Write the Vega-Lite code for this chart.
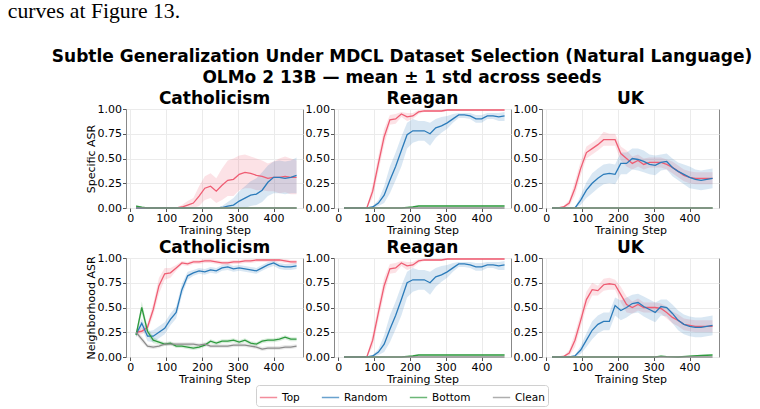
{
"$schema":"https://vega.github.io/schema/vega-lite/v6.json",
"padding":{"left":7,"top":0,"right":5,"bottom":1},
"data":{"values":[
{"p":"Catholicism","r":"S","s":"Top","x":16,"m":0,"lo":0,"hi":0},
{"p":"Catholicism","r":"S","s":"Top","x":128,"m":0,"lo":0,"hi":0},
{"p":"Catholicism","r":"S","s":"Top","x":144,"m":0.01,"lo":0,"hi":0.03},
{"p":"Catholicism","r":"S","s":"Top","x":160,"m":0.03,"lo":0,"hi":0.07},
{"p":"Catholicism","r":"S","s":"Top","x":176,"m":0.05,"lo":0,"hi":0.1},
{"p":"Catholicism","r":"S","s":"Top","x":192,"m":0.12,"lo":0.02,"hi":0.22},
{"p":"Catholicism","r":"S","s":"Top","x":208,"m":0.2,"lo":0.08,"hi":0.32},
{"p":"Catholicism","r":"S","s":"Top","x":224,"m":0.22,"lo":0.1,"hi":0.35},
{"p":"Catholicism","r":"S","s":"Top","x":240,"m":0.17,"lo":0.05,"hi":0.3},
{"p":"Catholicism","r":"S","s":"Top","x":256,"m":0.23,"lo":0.08,"hi":0.4},
{"p":"Catholicism","r":"S","s":"Top","x":272,"m":0.28,"lo":0.12,"hi":0.48},
{"p":"Catholicism","r":"S","s":"Top","x":288,"m":0.29,"lo":0.12,"hi":0.5},
{"p":"Catholicism","r":"S","s":"Top","x":304,"m":0.34,"lo":0.18,"hi":0.53},
{"p":"Catholicism","r":"S","s":"Top","x":320,"m":0.36,"lo":0.2,"hi":0.54},
{"p":"Catholicism","r":"S","s":"Top","x":336,"m":0.35,"lo":0.2,"hi":0.52},
{"p":"Catholicism","r":"S","s":"Top","x":352,"m":0.33,"lo":0.18,"hi":0.5},
{"p":"Catholicism","r":"S","s":"Top","x":368,"m":0.32,"lo":0.18,"hi":0.48},
{"p":"Catholicism","r":"S","s":"Top","x":384,"m":0.3,"lo":0.17,"hi":0.45},
{"p":"Catholicism","r":"S","s":"Top","x":400,"m":0.31,"lo":0.17,"hi":0.47},
{"p":"Catholicism","r":"S","s":"Top","x":416,"m":0.31,"lo":0.15,"hi":0.5},
{"p":"Catholicism","r":"S","s":"Top","x":432,"m":0.32,"lo":0.16,"hi":0.52},
{"p":"Catholicism","r":"S","s":"Top","x":448,"m":0.31,"lo":0.14,"hi":0.5},
{"p":"Catholicism","r":"S","s":"Top","x":464,"m":0.31,"lo":0.14,"hi":0.48},
{"p":"Catholicism","r":"S","s":"Random","x":16,"m":0,"lo":0,"hi":0},
{"p":"Catholicism","r":"S","s":"Random","x":240,"m":0,"lo":0,"hi":0},
{"p":"Catholicism","r":"S","s":"Random","x":256,"m":0.005,"lo":0,"hi":0.02},
{"p":"Catholicism","r":"S","s":"Random","x":272,"m":0.02,"lo":0,"hi":0.06},
{"p":"Catholicism","r":"S","s":"Random","x":288,"m":0.03,"lo":0,"hi":0.1},
{"p":"Catholicism","r":"S","s":"Random","x":304,"m":0.07,"lo":0,"hi":0.17},
{"p":"Catholicism","r":"S","s":"Random","x":320,"m":0.1,"lo":0,"hi":0.22},
{"p":"Catholicism","r":"S","s":"Random","x":336,"m":0.13,"lo":0.02,"hi":0.27},
{"p":"Catholicism","r":"S","s":"Random","x":352,"m":0.14,"lo":0.03,"hi":0.3},
{"p":"Catholicism","r":"S","s":"Random","x":368,"m":0.18,"lo":0.06,"hi":0.36},
{"p":"Catholicism","r":"S","s":"Random","x":384,"m":0.26,"lo":0.12,"hi":0.43},
{"p":"Catholicism","r":"S","s":"Random","x":400,"m":0.31,"lo":0.15,"hi":0.47},
{"p":"Catholicism","r":"S","s":"Random","x":416,"m":0.31,"lo":0.15,"hi":0.48},
{"p":"Catholicism","r":"S","s":"Random","x":432,"m":0.3,"lo":0.14,"hi":0.47},
{"p":"Catholicism","r":"S","s":"Random","x":448,"m":0.31,"lo":0.15,"hi":0.48},
{"p":"Catholicism","r":"S","s":"Random","x":464,"m":0.33,"lo":0.15,"hi":0.51},
{"p":"Catholicism","r":"S","s":"Bottom","x":16,"m":0.02,"lo":0.01,"hi":0.03},
{"p":"Catholicism","r":"S","s":"Bottom","x":32,"m":0.008,"lo":0,"hi":0.015},
{"p":"Catholicism","r":"S","s":"Bottom","x":48,"m":0,"lo":0,"hi":0},
{"p":"Catholicism","r":"S","s":"Bottom","x":464,"m":0,"lo":0,"hi":0},
{"p":"Catholicism","r":"S","s":"Clean","x":16,"m":0,"lo":0,"hi":0},
{"p":"Catholicism","r":"S","s":"Clean","x":464,"m":0,"lo":0,"hi":0},

{"p":"Reagan","r":"S","s":"Top","x":16,"m":0,"lo":0,"hi":0},
{"p":"Reagan","r":"S","s":"Top","x":80,"m":0.005,"lo":0,"hi":0.01},
{"p":"Reagan","r":"S","s":"Top","x":96,"m":0.17,"lo":0.1,"hi":0.24},
{"p":"Reagan","r":"S","s":"Top","x":112,"m":0.45,"lo":0.37,"hi":0.53},
{"p":"Reagan","r":"S","s":"Top","x":128,"m":0.72,"lo":0.64,"hi":0.8},
{"p":"Reagan","r":"S","s":"Top","x":144,"m":0.89,"lo":0.84,"hi":0.94},
{"p":"Reagan","r":"S","s":"Top","x":160,"m":0.9,"lo":0.85,"hi":0.95},
{"p":"Reagan","r":"S","s":"Top","x":176,"m":0.95,"lo":0.92,"hi":0.97},
{"p":"Reagan","r":"S","s":"Top","x":192,"m":0.92,"lo":0.88,"hi":0.96},
{"p":"Reagan","r":"S","s":"Top","x":208,"m":0.93,"lo":0.9,"hi":0.96},
{"p":"Reagan","r":"S","s":"Top","x":224,"m":0.97,"lo":0.95,"hi":0.99},
{"p":"Reagan","r":"S","s":"Top","x":240,"m":0.98,"lo":0.97,"hi":0.99},
{"p":"Reagan","r":"S","s":"Top","x":288,"m":0.98,"lo":0.97,"hi":0.99},
{"p":"Reagan","r":"S","s":"Top","x":304,"m":0.99,"lo":0.98,"hi":1},
{"p":"Reagan","r":"S","s":"Top","x":464,"m":0.99,"lo":0.98,"hi":1},
{"p":"Reagan","r":"S","s":"Random","x":16,"m":0,"lo":0,"hi":0},
{"p":"Reagan","r":"S","s":"Random","x":80,"m":0,"lo":0,"hi":0},
{"p":"Reagan","r":"S","s":"Random","x":96,"m":0.01,"lo":0,"hi":0.02},
{"p":"Reagan","r":"S","s":"Random","x":112,"m":0.05,"lo":0.02,"hi":0.08},
{"p":"Reagan","r":"S","s":"Random","x":128,"m":0.13,"lo":0.05,"hi":0.22},
{"p":"Reagan","r":"S","s":"Random","x":144,"m":0.28,"lo":0.15,"hi":0.42},
{"p":"Reagan","r":"S","s":"Random","x":160,"m":0.42,"lo":0.28,"hi":0.56},
{"p":"Reagan","r":"S","s":"Random","x":176,"m":0.58,"lo":0.42,"hi":0.72},
{"p":"Reagan","r":"S","s":"Random","x":192,"m":0.74,"lo":0.6,"hi":0.86},
{"p":"Reagan","r":"S","s":"Random","x":208,"m":0.78,"lo":0.66,"hi":0.9},
{"p":"Reagan","r":"S","s":"Random","x":224,"m":0.78,"lo":0.68,"hi":0.88},
{"p":"Reagan","r":"S","s":"Random","x":240,"m":0.78,"lo":0.68,"hi":0.88},
{"p":"Reagan","r":"S","s":"Random","x":256,"m":0.75,"lo":0.63,"hi":0.86},
{"p":"Reagan","r":"S","s":"Random","x":272,"m":0.81,"lo":0.71,"hi":0.9},
{"p":"Reagan","r":"S","s":"Random","x":288,"m":0.83,"lo":0.76,"hi":0.92},
{"p":"Reagan","r":"S","s":"Random","x":304,"m":0.86,"lo":0.8,"hi":0.93},
{"p":"Reagan","r":"S","s":"Random","x":320,"m":0.9,"lo":0.86,"hi":0.95},
{"p":"Reagan","r":"S","s":"Random","x":336,"m":0.94,"lo":0.91,"hi":0.96},
{"p":"Reagan","r":"S","s":"Random","x":352,"m":0.94,"lo":0.91,"hi":0.96},
{"p":"Reagan","r":"S","s":"Random","x":368,"m":0.93,"lo":0.9,"hi":0.96},
{"p":"Reagan","r":"S","s":"Random","x":384,"m":0.9,"lo":0.86,"hi":0.94},
{"p":"Reagan","r":"S","s":"Random","x":400,"m":0.9,"lo":0.86,"hi":0.94},
{"p":"Reagan","r":"S","s":"Random","x":416,"m":0.93,"lo":0.9,"hi":0.96},
{"p":"Reagan","r":"S","s":"Random","x":432,"m":0.93,"lo":0.9,"hi":0.96},
{"p":"Reagan","r":"S","s":"Random","x":448,"m":0.92,"lo":0.88,"hi":0.96},
{"p":"Reagan","r":"S","s":"Random","x":464,"m":0.93,"lo":0.88,"hi":0.97},
{"p":"Reagan","r":"S","s":"Bottom","x":16,"m":0,"lo":0,"hi":0},
{"p":"Reagan","r":"S","s":"Bottom","x":176,"m":0,"lo":0,"hi":0},
{"p":"Reagan","r":"S","s":"Bottom","x":192,"m":0.005,"lo":0,"hi":0.01},
{"p":"Reagan","r":"S","s":"Bottom","x":208,"m":0.01,"lo":0,"hi":0.02},
{"p":"Reagan","r":"S","s":"Bottom","x":224,"m":0.02,"lo":0.015,"hi":0.025},
{"p":"Reagan","r":"S","s":"Bottom","x":464,"m":0.02,"lo":0.015,"hi":0.025},
{"p":"Reagan","r":"S","s":"Clean","x":16,"m":0,"lo":0,"hi":0},
{"p":"Reagan","r":"S","s":"Clean","x":464,"m":0,"lo":0,"hi":0},

{"p":"UK","r":"S","s":"Top","x":16,"m":0,"lo":0,"hi":0},
{"p":"UK","r":"S","s":"Top","x":32,"m":0,"lo":0,"hi":0},
{"p":"UK","r":"S","s":"Top","x":48,"m":0.01,"lo":0,"hi":0.02},
{"p":"UK","r":"S","s":"Top","x":64,"m":0.05,"lo":0.02,"hi":0.08},
{"p":"UK","r":"S","s":"Top","x":80,"m":0.2,"lo":0.13,"hi":0.27},
{"p":"UK","r":"S","s":"Top","x":96,"m":0.4,"lo":0.33,"hi":0.47},
{"p":"UK","r":"S","s":"Top","x":112,"m":0.56,"lo":0.5,"hi":0.62},
{"p":"UK","r":"S","s":"Top","x":128,"m":0.6,"lo":0.54,"hi":0.66},
{"p":"UK","r":"S","s":"Top","x":144,"m":0.64,"lo":0.58,"hi":0.7},
{"p":"UK","r":"S","s":"Top","x":160,"m":0.69,"lo":0.63,"hi":0.77},
{"p":"UK","r":"S","s":"Top","x":176,"m":0.69,"lo":0.63,"hi":0.75},
{"p":"UK","r":"S","s":"Top","x":192,"m":0.69,"lo":0.63,"hi":0.75},
{"p":"UK","r":"S","s":"Top","x":208,"m":0.55,"lo":0.48,"hi":0.62},
{"p":"UK","r":"S","s":"Top","x":224,"m":0.5,"lo":0.42,"hi":0.58},
{"p":"UK","r":"S","s":"Top","x":240,"m":0.45,"lo":0.39,"hi":0.52},
{"p":"UK","r":"S","s":"Top","x":256,"m":0.48,"lo":0.42,"hi":0.54},
{"p":"UK","r":"S","s":"Top","x":272,"m":0.44,"lo":0.39,"hi":0.5},
{"p":"UK","r":"S","s":"Top","x":288,"m":0.46,"lo":0.41,"hi":0.51},
{"p":"UK","r":"S","s":"Top","x":304,"m":0.46,"lo":0.41,"hi":0.51},
{"p":"UK","r":"S","s":"Top","x":320,"m":0.46,"lo":0.41,"hi":0.51},
{"p":"UK","r":"S","s":"Top","x":336,"m":0.44,"lo":0.39,"hi":0.49},
{"p":"UK","r":"S","s":"Top","x":352,"m":0.41,"lo":0.35,"hi":0.47},
{"p":"UK","r":"S","s":"Top","x":368,"m":0.37,"lo":0.31,"hi":0.43},
{"p":"UK","r":"S","s":"Top","x":384,"m":0.33,"lo":0.27,"hi":0.39},
{"p":"UK","r":"S","s":"Top","x":400,"m":0.31,"lo":0.25,"hi":0.37},
{"p":"UK","r":"S","s":"Top","x":416,"m":0.3,"lo":0.24,"hi":0.36},
{"p":"UK","r":"S","s":"Top","x":464,"m":0.3,"lo":0.24,"hi":0.36},
{"p":"UK","r":"S","s":"Random","x":16,"m":0,"lo":0,"hi":0},
{"p":"UK","r":"S","s":"Random","x":80,"m":0,"lo":0,"hi":0},
{"p":"UK","r":"S","s":"Random","x":96,"m":0.08,"lo":0.03,"hi":0.13},
{"p":"UK","r":"S","s":"Random","x":112,"m":0.18,"lo":0.1,"hi":0.26},
{"p":"UK","r":"S","s":"Random","x":128,"m":0.25,"lo":0.15,"hi":0.35},
{"p":"UK","r":"S","s":"Random","x":144,"m":0.3,"lo":0.2,"hi":0.4},
{"p":"UK","r":"S","s":"Random","x":160,"m":0.34,"lo":0.24,"hi":0.44},
{"p":"UK","r":"S","s":"Random","x":176,"m":0.35,"lo":0.25,"hi":0.45},
{"p":"UK","r":"S","s":"Random","x":192,"m":0.34,"lo":0.24,"hi":0.44},
{"p":"UK","r":"S","s":"Random","x":208,"m":0.45,"lo":0.34,"hi":0.56},
{"p":"UK","r":"S","s":"Random","x":224,"m":0.45,"lo":0.34,"hi":0.56},
{"p":"UK","r":"S","s":"Random","x":240,"m":0.5,"lo":0.39,"hi":0.6},
{"p":"UK","r":"S","s":"Random","x":256,"m":0.49,"lo":0.38,"hi":0.6},
{"p":"UK","r":"S","s":"Random","x":272,"m":0.47,"lo":0.36,"hi":0.58},
{"p":"UK","r":"S","s":"Random","x":288,"m":0.44,"lo":0.34,"hi":0.54},
{"p":"UK","r":"S","s":"Random","x":304,"m":0.43,"lo":0.33,"hi":0.53},
{"p":"UK","r":"S","s":"Random","x":320,"m":0.46,"lo":0.38,"hi":0.54},
{"p":"UK","r":"S","s":"Random","x":336,"m":0.47,"lo":0.39,"hi":0.55},
{"p":"UK","r":"S","s":"Random","x":352,"m":0.41,"lo":0.32,"hi":0.5},
{"p":"UK","r":"S","s":"Random","x":368,"m":0.37,"lo":0.28,"hi":0.46},
{"p":"UK","r":"S","s":"Random","x":384,"m":0.34,"lo":0.24,"hi":0.44},
{"p":"UK","r":"S","s":"Random","x":400,"m":0.31,"lo":0.2,"hi":0.42},
{"p":"UK","r":"S","s":"Random","x":416,"m":0.29,"lo":0.19,"hi":0.39},
{"p":"UK","r":"S","s":"Random","x":432,"m":0.28,"lo":0.18,"hi":0.38},
{"p":"UK","r":"S","s":"Random","x":448,"m":0.29,"lo":0.19,"hi":0.39},
{"p":"UK","r":"S","s":"Random","x":464,"m":0.3,"lo":0.2,"hi":0.4},
{"p":"UK","r":"S","s":"Bottom","x":16,"m":0,"lo":0,"hi":0},
{"p":"UK","r":"S","s":"Bottom","x":464,"m":0,"lo":0,"hi":0},
{"p":"UK","r":"S","s":"Clean","x":16,"m":0,"lo":0,"hi":0},
{"p":"UK","r":"S","s":"Clean","x":464,"m":0,"lo":0,"hi":0},

{"p":"Catholicism","r":"N","s":"Top","x":16,"m":0.25,"lo":0.22,"hi":0.28},
{"p":"Catholicism","r":"N","s":"Top","x":32,"m":0.26,"lo":0.23,"hi":0.29},
{"p":"Catholicism","r":"N","s":"Top","x":48,"m":0.3,"lo":0.26,"hi":0.34},
{"p":"Catholicism","r":"N","s":"Top","x":64,"m":0.48,"lo":0.42,"hi":0.54},
{"p":"Catholicism","r":"N","s":"Top","x":80,"m":0.72,"lo":0.64,"hi":0.8},
{"p":"Catholicism","r":"N","s":"Top","x":96,"m":0.84,"lo":0.78,"hi":0.9},
{"p":"Catholicism","r":"N","s":"Top","x":112,"m":0.85,"lo":0.8,"hi":0.9},
{"p":"Catholicism","r":"N","s":"Top","x":128,"m":0.9,"lo":0.87,"hi":0.93},
{"p":"Catholicism","r":"N","s":"Top","x":144,"m":0.95,"lo":0.93,"hi":0.97},
{"p":"Catholicism","r":"N","s":"Top","x":160,"m":0.94,"lo":0.92,"hi":0.96},
{"p":"Catholicism","r":"N","s":"Top","x":176,"m":0.96,"lo":0.94,"hi":0.98},
{"p":"Catholicism","r":"N","s":"Top","x":192,"m":0.96,"lo":0.94,"hi":0.98},
{"p":"Catholicism","r":"N","s":"Top","x":208,"m":0.97,"lo":0.95,"hi":0.99},
{"p":"Catholicism","r":"N","s":"Top","x":224,"m":0.97,"lo":0.95,"hi":0.99},
{"p":"Catholicism","r":"N","s":"Top","x":240,"m":0.96,"lo":0.94,"hi":0.98},
{"p":"Catholicism","r":"N","s":"Top","x":256,"m":0.95,"lo":0.93,"hi":0.97},
{"p":"Catholicism","r":"N","s":"Top","x":272,"m":0.95,"lo":0.93,"hi":0.97},
{"p":"Catholicism","r":"N","s":"Top","x":288,"m":0.96,"lo":0.94,"hi":0.98},
{"p":"Catholicism","r":"N","s":"Top","x":304,"m":0.96,"lo":0.94,"hi":0.98},
{"p":"Catholicism","r":"N","s":"Top","x":320,"m":0.97,"lo":0.95,"hi":0.99},
{"p":"Catholicism","r":"N","s":"Top","x":336,"m":0.97,"lo":0.95,"hi":0.99},
{"p":"Catholicism","r":"N","s":"Top","x":352,"m":0.98,"lo":0.96,"hi":0.99},
{"p":"Catholicism","r":"N","s":"Top","x":416,"m":0.98,"lo":0.96,"hi":0.99},
{"p":"Catholicism","r":"N","s":"Top","x":432,"m":0.97,"lo":0.95,"hi":0.99},
{"p":"Catholicism","r":"N","s":"Top","x":448,"m":0.96,"lo":0.94,"hi":0.98},
{"p":"Catholicism","r":"N","s":"Top","x":464,"m":0.96,"lo":0.94,"hi":0.98},
{"p":"Catholicism","r":"N","s":"Random","x":16,"m":0.23,"lo":0.2,"hi":0.26},
{"p":"Catholicism","r":"N","s":"Random","x":32,"m":0.34,"lo":0.29,"hi":0.39},
{"p":"Catholicism","r":"N","s":"Random","x":48,"m":0.21,"lo":0.16,"hi":0.26},
{"p":"Catholicism","r":"N","s":"Random","x":64,"m":0.21,"lo":0.15,"hi":0.27},
{"p":"Catholicism","r":"N","s":"Random","x":80,"m":0.25,"lo":0.19,"hi":0.31},
{"p":"Catholicism","r":"N","s":"Random","x":96,"m":0.29,"lo":0.23,"hi":0.35},
{"p":"Catholicism","r":"N","s":"Random","x":112,"m":0.38,"lo":0.32,"hi":0.44},
{"p":"Catholicism","r":"N","s":"Random","x":128,"m":0.45,"lo":0.39,"hi":0.51},
{"p":"Catholicism","r":"N","s":"Random","x":144,"m":0.68,"lo":0.62,"hi":0.74},
{"p":"Catholicism","r":"N","s":"Random","x":160,"m":0.82,"lo":0.78,"hi":0.86},
{"p":"Catholicism","r":"N","s":"Random","x":176,"m":0.85,"lo":0.82,"hi":0.88},
{"p":"Catholicism","r":"N","s":"Random","x":192,"m":0.87,"lo":0.84,"hi":0.9},
{"p":"Catholicism","r":"N","s":"Random","x":208,"m":0.86,"lo":0.83,"hi":0.89},
{"p":"Catholicism","r":"N","s":"Random","x":224,"m":0.88,"lo":0.85,"hi":0.91},
{"p":"Catholicism","r":"N","s":"Random","x":240,"m":0.87,"lo":0.84,"hi":0.9},
{"p":"Catholicism","r":"N","s":"Random","x":256,"m":0.9,"lo":0.87,"hi":0.93},
{"p":"Catholicism","r":"N","s":"Random","x":272,"m":0.91,"lo":0.88,"hi":0.94},
{"p":"Catholicism","r":"N","s":"Random","x":288,"m":0.89,"lo":0.86,"hi":0.92},
{"p":"Catholicism","r":"N","s":"Random","x":304,"m":0.9,"lo":0.87,"hi":0.93},
{"p":"Catholicism","r":"N","s":"Random","x":320,"m":0.89,"lo":0.86,"hi":0.92},
{"p":"Catholicism","r":"N","s":"Random","x":336,"m":0.88,"lo":0.85,"hi":0.91},
{"p":"Catholicism","r":"N","s":"Random","x":352,"m":0.87,"lo":0.84,"hi":0.9},
{"p":"Catholicism","r":"N","s":"Random","x":368,"m":0.9,"lo":0.87,"hi":0.93},
{"p":"Catholicism","r":"N","s":"Random","x":384,"m":0.93,"lo":0.9,"hi":0.96},
{"p":"Catholicism","r":"N","s":"Random","x":400,"m":0.95,"lo":0.92,"hi":0.97},
{"p":"Catholicism","r":"N","s":"Random","x":416,"m":0.92,"lo":0.89,"hi":0.95},
{"p":"Catholicism","r":"N","s":"Random","x":432,"m":0.91,"lo":0.88,"hi":0.94},
{"p":"Catholicism","r":"N","s":"Random","x":448,"m":0.91,"lo":0.88,"hi":0.94},
{"p":"Catholicism","r":"N","s":"Random","x":464,"m":0.92,"lo":0.89,"hi":0.95},
{"p":"Catholicism","r":"N","s":"Bottom","x":16,"m":0.22,"lo":0.2,"hi":0.24},
{"p":"Catholicism","r":"N","s":"Bottom","x":32,"m":0.5,"lo":0.44,"hi":0.56},
{"p":"Catholicism","r":"N","s":"Bottom","x":48,"m":0.26,"lo":0.22,"hi":0.3},
{"p":"Catholicism","r":"N","s":"Bottom","x":64,"m":0.17,"lo":0.14,"hi":0.2},
{"p":"Catholicism","r":"N","s":"Bottom","x":80,"m":0.15,"lo":0.13,"hi":0.17},
{"p":"Catholicism","r":"N","s":"Bottom","x":96,"m":0.13,"lo":0.11,"hi":0.15},
{"p":"Catholicism","r":"N","s":"Bottom","x":112,"m":0.14,"lo":0.12,"hi":0.16},
{"p":"Catholicism","r":"N","s":"Bottom","x":128,"m":0.11,"lo":0.09,"hi":0.13},
{"p":"Catholicism","r":"N","s":"Bottom","x":144,"m":0.11,"lo":0.09,"hi":0.13},
{"p":"Catholicism","r":"N","s":"Bottom","x":160,"m":0.1,"lo":0.08,"hi":0.12},
{"p":"Catholicism","r":"N","s":"Bottom","x":176,"m":0.09,"lo":0.07,"hi":0.11},
{"p":"Catholicism","r":"N","s":"Bottom","x":192,"m":0.1,"lo":0.08,"hi":0.12},
{"p":"Catholicism","r":"N","s":"Bottom","x":208,"m":0.12,"lo":0.1,"hi":0.14},
{"p":"Catholicism","r":"N","s":"Bottom","x":224,"m":0.16,"lo":0.14,"hi":0.18},
{"p":"Catholicism","r":"N","s":"Bottom","x":240,"m":0.14,"lo":0.12,"hi":0.16},
{"p":"Catholicism","r":"N","s":"Bottom","x":256,"m":0.16,"lo":0.14,"hi":0.18},
{"p":"Catholicism","r":"N","s":"Bottom","x":272,"m":0.16,"lo":0.14,"hi":0.18},
{"p":"Catholicism","r":"N","s":"Bottom","x":288,"m":0.17,"lo":0.15,"hi":0.19},
{"p":"Catholicism","r":"N","s":"Bottom","x":304,"m":0.15,"lo":0.13,"hi":0.17},
{"p":"Catholicism","r":"N","s":"Bottom","x":320,"m":0.17,"lo":0.15,"hi":0.19},
{"p":"Catholicism","r":"N","s":"Bottom","x":336,"m":0.14,"lo":0.12,"hi":0.16},
{"p":"Catholicism","r":"N","s":"Bottom","x":352,"m":0.13,"lo":0.11,"hi":0.15},
{"p":"Catholicism","r":"N","s":"Bottom","x":368,"m":0.16,"lo":0.14,"hi":0.18},
{"p":"Catholicism","r":"N","s":"Bottom","x":384,"m":0.17,"lo":0.15,"hi":0.19},
{"p":"Catholicism","r":"N","s":"Bottom","x":400,"m":0.17,"lo":0.15,"hi":0.19},
{"p":"Catholicism","r":"N","s":"Bottom","x":416,"m":0.18,"lo":0.16,"hi":0.2},
{"p":"Catholicism","r":"N","s":"Bottom","x":432,"m":0.2,"lo":0.18,"hi":0.22},
{"p":"Catholicism","r":"N","s":"Bottom","x":448,"m":0.18,"lo":0.16,"hi":0.2},
{"p":"Catholicism","r":"N","s":"Bottom","x":464,"m":0.18,"lo":0.16,"hi":0.2},
{"p":"Catholicism","r":"N","s":"Clean","x":16,"m":0.25,"lo":0.23,"hi":0.27},
{"p":"Catholicism","r":"N","s":"Clean","x":32,"m":0.18,"lo":0.15,"hi":0.21},
{"p":"Catholicism","r":"N","s":"Clean","x":48,"m":0.11,"lo":0.09,"hi":0.13},
{"p":"Catholicism","r":"N","s":"Clean","x":64,"m":0.1,"lo":0.08,"hi":0.12},
{"p":"Catholicism","r":"N","s":"Clean","x":80,"m":0.11,"lo":0.09,"hi":0.13},
{"p":"Catholicism","r":"N","s":"Clean","x":96,"m":0.13,"lo":0.11,"hi":0.15},
{"p":"Catholicism","r":"N","s":"Clean","x":176,"m":0.13,"lo":0.11,"hi":0.15},
{"p":"Catholicism","r":"N","s":"Clean","x":192,"m":0.12,"lo":0.1,"hi":0.14},
{"p":"Catholicism","r":"N","s":"Clean","x":208,"m":0.13,"lo":0.11,"hi":0.15},
{"p":"Catholicism","r":"N","s":"Clean","x":224,"m":0.11,"lo":0.09,"hi":0.13},
{"p":"Catholicism","r":"N","s":"Clean","x":272,"m":0.11,"lo":0.09,"hi":0.13},
{"p":"Catholicism","r":"N","s":"Clean","x":288,"m":0.12,"lo":0.1,"hi":0.14},
{"p":"Catholicism","r":"N","s":"Clean","x":320,"m":0.12,"lo":0.1,"hi":0.14},
{"p":"Catholicism","r":"N","s":"Clean","x":336,"m":0.11,"lo":0.09,"hi":0.13},
{"p":"Catholicism","r":"N","s":"Clean","x":352,"m":0.1,"lo":0.08,"hi":0.12},
{"p":"Catholicism","r":"N","s":"Clean","x":368,"m":0.08,"lo":0.06,"hi":0.1},
{"p":"Catholicism","r":"N","s":"Clean","x":384,"m":0.09,"lo":0.07,"hi":0.11},
{"p":"Catholicism","r":"N","s":"Clean","x":416,"m":0.09,"lo":0.07,"hi":0.11},
{"p":"Catholicism","r":"N","s":"Clean","x":432,"m":0.1,"lo":0.08,"hi":0.12},
{"p":"Catholicism","r":"N","s":"Clean","x":448,"m":0.1,"lo":0.08,"hi":0.12},
{"p":"Catholicism","r":"N","s":"Clean","x":464,"m":0.11,"lo":0.09,"hi":0.13},

{"p":"Reagan","r":"N","s":"Top","x":16,"m":0,"lo":0,"hi":0},
{"p":"Reagan","r":"N","s":"Top","x":80,"m":0.005,"lo":0,"hi":0.01},
{"p":"Reagan","r":"N","s":"Top","x":96,"m":0.17,"lo":0.1,"hi":0.24},
{"p":"Reagan","r":"N","s":"Top","x":112,"m":0.45,"lo":0.37,"hi":0.53},
{"p":"Reagan","r":"N","s":"Top","x":128,"m":0.72,"lo":0.64,"hi":0.8},
{"p":"Reagan","r":"N","s":"Top","x":144,"m":0.89,"lo":0.84,"hi":0.94},
{"p":"Reagan","r":"N","s":"Top","x":160,"m":0.9,"lo":0.85,"hi":0.95},
{"p":"Reagan","r":"N","s":"Top","x":176,"m":0.95,"lo":0.92,"hi":0.97},
{"p":"Reagan","r":"N","s":"Top","x":192,"m":0.92,"lo":0.88,"hi":0.96},
{"p":"Reagan","r":"N","s":"Top","x":208,"m":0.93,"lo":0.9,"hi":0.96},
{"p":"Reagan","r":"N","s":"Top","x":224,"m":0.97,"lo":0.95,"hi":0.99},
{"p":"Reagan","r":"N","s":"Top","x":240,"m":0.98,"lo":0.97,"hi":0.99},
{"p":"Reagan","r":"N","s":"Top","x":288,"m":0.98,"lo":0.97,"hi":0.99},
{"p":"Reagan","r":"N","s":"Top","x":304,"m":0.99,"lo":0.98,"hi":1},
{"p":"Reagan","r":"N","s":"Top","x":464,"m":0.99,"lo":0.98,"hi":1},
{"p":"Reagan","r":"N","s":"Random","x":16,"m":0,"lo":0,"hi":0},
{"p":"Reagan","r":"N","s":"Random","x":80,"m":0,"lo":0,"hi":0},
{"p":"Reagan","r":"N","s":"Random","x":96,"m":0.01,"lo":0,"hi":0.02},
{"p":"Reagan","r":"N","s":"Random","x":112,"m":0.05,"lo":0.02,"hi":0.08},
{"p":"Reagan","r":"N","s":"Random","x":128,"m":0.13,"lo":0.05,"hi":0.22},
{"p":"Reagan","r":"N","s":"Random","x":144,"m":0.28,"lo":0.15,"hi":0.42},
{"p":"Reagan","r":"N","s":"Random","x":160,"m":0.42,"lo":0.28,"hi":0.56},
{"p":"Reagan","r":"N","s":"Random","x":176,"m":0.58,"lo":0.42,"hi":0.72},
{"p":"Reagan","r":"N","s":"Random","x":192,"m":0.75,"lo":0.6,"hi":0.86},
{"p":"Reagan","r":"N","s":"Random","x":208,"m":0.78,"lo":0.66,"hi":0.9},
{"p":"Reagan","r":"N","s":"Random","x":224,"m":0.78,"lo":0.68,"hi":0.88},
{"p":"Reagan","r":"N","s":"Random","x":240,"m":0.78,"lo":0.68,"hi":0.88},
{"p":"Reagan","r":"N","s":"Random","x":256,"m":0.75,"lo":0.63,"hi":0.86},
{"p":"Reagan","r":"N","s":"Random","x":272,"m":0.81,"lo":0.71,"hi":0.9},
{"p":"Reagan","r":"N","s":"Random","x":288,"m":0.83,"lo":0.76,"hi":0.92},
{"p":"Reagan","r":"N","s":"Random","x":304,"m":0.86,"lo":0.8,"hi":0.93},
{"p":"Reagan","r":"N","s":"Random","x":320,"m":0.9,"lo":0.86,"hi":0.95},
{"p":"Reagan","r":"N","s":"Random","x":336,"m":0.94,"lo":0.91,"hi":0.96},
{"p":"Reagan","r":"N","s":"Random","x":352,"m":0.94,"lo":0.91,"hi":0.96},
{"p":"Reagan","r":"N","s":"Random","x":368,"m":0.93,"lo":0.9,"hi":0.96},
{"p":"Reagan","r":"N","s":"Random","x":384,"m":0.91,"lo":0.87,"hi":0.95},
{"p":"Reagan","r":"N","s":"Random","x":400,"m":0.91,"lo":0.87,"hi":0.95},
{"p":"Reagan","r":"N","s":"Random","x":416,"m":0.93,"lo":0.9,"hi":0.96},
{"p":"Reagan","r":"N","s":"Random","x":432,"m":0.93,"lo":0.9,"hi":0.96},
{"p":"Reagan","r":"N","s":"Random","x":448,"m":0.92,"lo":0.88,"hi":0.96},
{"p":"Reagan","r":"N","s":"Random","x":464,"m":0.93,"lo":0.88,"hi":0.97},
{"p":"Reagan","r":"N","s":"Bottom","x":16,"m":0,"lo":0,"hi":0},
{"p":"Reagan","r":"N","s":"Bottom","x":176,"m":0,"lo":0,"hi":0},
{"p":"Reagan","r":"N","s":"Bottom","x":192,"m":0.005,"lo":0,"hi":0.01},
{"p":"Reagan","r":"N","s":"Bottom","x":208,"m":0.01,"lo":0,"hi":0.02},
{"p":"Reagan","r":"N","s":"Bottom","x":224,"m":0.02,"lo":0.015,"hi":0.025},
{"p":"Reagan","r":"N","s":"Bottom","x":464,"m":0.02,"lo":0.015,"hi":0.025},
{"p":"Reagan","r":"N","s":"Clean","x":16,"m":0,"lo":0,"hi":0},
{"p":"Reagan","r":"N","s":"Clean","x":464,"m":0,"lo":0,"hi":0},

{"p":"UK","r":"N","s":"Top","x":16,"m":0,"lo":0,"hi":0},
{"p":"UK","r":"N","s":"Top","x":32,"m":0,"lo":0,"hi":0},
{"p":"UK","r":"N","s":"Top","x":48,"m":0.005,"lo":0,"hi":0.01},
{"p":"UK","r":"N","s":"Top","x":64,"m":0.04,"lo":0.01,"hi":0.07},
{"p":"UK","r":"N","s":"Top","x":80,"m":0.17,"lo":0.1,"hi":0.24},
{"p":"UK","r":"N","s":"Top","x":96,"m":0.37,"lo":0.3,"hi":0.44},
{"p":"UK","r":"N","s":"Top","x":112,"m":0.58,"lo":0.5,"hi":0.66},
{"p":"UK","r":"N","s":"Top","x":128,"m":0.68,"lo":0.62,"hi":0.75},
{"p":"UK","r":"N","s":"Top","x":144,"m":0.67,"lo":0.62,"hi":0.72},
{"p":"UK","r":"N","s":"Top","x":160,"m":0.73,"lo":0.67,"hi":0.79},
{"p":"UK","r":"N","s":"Top","x":176,"m":0.74,"lo":0.68,"hi":0.8},
{"p":"UK","r":"N","s":"Top","x":192,"m":0.73,"lo":0.68,"hi":0.78},
{"p":"UK","r":"N","s":"Top","x":208,"m":0.63,"lo":0.55,"hi":0.71},
{"p":"UK","r":"N","s":"Top","x":224,"m":0.53,"lo":0.45,"hi":0.61},
{"p":"UK","r":"N","s":"Top","x":240,"m":0.5,"lo":0.44,"hi":0.56},
{"p":"UK","r":"N","s":"Top","x":256,"m":0.53,"lo":0.47,"hi":0.59},
{"p":"UK","r":"N","s":"Top","x":272,"m":0.5,"lo":0.45,"hi":0.55},
{"p":"UK","r":"N","s":"Top","x":304,"m":0.5,"lo":0.45,"hi":0.55},
{"p":"UK","r":"N","s":"Top","x":320,"m":0.49,"lo":0.44,"hi":0.54},
{"p":"UK","r":"N","s":"Top","x":336,"m":0.45,"lo":0.39,"hi":0.51},
{"p":"UK","r":"N","s":"Top","x":352,"m":0.4,"lo":0.34,"hi":0.46},
{"p":"UK","r":"N","s":"Top","x":368,"m":0.37,"lo":0.31,"hi":0.43},
{"p":"UK","r":"N","s":"Top","x":384,"m":0.33,"lo":0.27,"hi":0.39},
{"p":"UK","r":"N","s":"Top","x":400,"m":0.32,"lo":0.26,"hi":0.38},
{"p":"UK","r":"N","s":"Top","x":416,"m":0.31,"lo":0.25,"hi":0.37},
{"p":"UK","r":"N","s":"Top","x":464,"m":0.31,"lo":0.25,"hi":0.37},
{"p":"UK","r":"N","s":"Random","x":16,"m":0,"lo":0,"hi":0},
{"p":"UK","r":"N","s":"Random","x":64,"m":0,"lo":0,"hi":0},
{"p":"UK","r":"N","s":"Random","x":80,"m":0.01,"lo":0,"hi":0.02},
{"p":"UK","r":"N","s":"Random","x":96,"m":0.07,"lo":0.03,"hi":0.11},
{"p":"UK","r":"N","s":"Random","x":112,"m":0.17,"lo":0.1,"hi":0.24},
{"p":"UK","r":"N","s":"Random","x":128,"m":0.27,"lo":0.18,"hi":0.36},
{"p":"UK","r":"N","s":"Random","x":144,"m":0.33,"lo":0.24,"hi":0.42},
{"p":"UK","r":"N","s":"Random","x":160,"m":0.36,"lo":0.27,"hi":0.45},
{"p":"UK","r":"N","s":"Random","x":176,"m":0.36,"lo":0.27,"hi":0.45},
{"p":"UK","r":"N","s":"Random","x":192,"m":0.52,"lo":0.42,"hi":0.6},
{"p":"UK","r":"N","s":"Random","x":208,"m":0.47,"lo":0.37,"hi":0.57},
{"p":"UK","r":"N","s":"Random","x":224,"m":0.5,"lo":0.4,"hi":0.6},
{"p":"UK","r":"N","s":"Random","x":240,"m":0.54,"lo":0.44,"hi":0.63},
{"p":"UK","r":"N","s":"Random","x":256,"m":0.55,"lo":0.45,"hi":0.64},
{"p":"UK","r":"N","s":"Random","x":272,"m":0.51,"lo":0.41,"hi":0.61},
{"p":"UK","r":"N","s":"Random","x":288,"m":0.48,"lo":0.38,"hi":0.58},
{"p":"UK","r":"N","s":"Random","x":304,"m":0.45,"lo":0.35,"hi":0.55},
{"p":"UK","r":"N","s":"Random","x":320,"m":0.51,"lo":0.42,"hi":0.58},
{"p":"UK","r":"N","s":"Random","x":336,"m":0.5,"lo":0.41,"hi":0.58},
{"p":"UK","r":"N","s":"Random","x":352,"m":0.44,"lo":0.34,"hi":0.53},
{"p":"UK","r":"N","s":"Random","x":368,"m":0.37,"lo":0.27,"hi":0.47},
{"p":"UK","r":"N","s":"Random","x":384,"m":0.33,"lo":0.23,"hi":0.43},
{"p":"UK","r":"N","s":"Random","x":400,"m":0.31,"lo":0.21,"hi":0.41},
{"p":"UK","r":"N","s":"Random","x":416,"m":0.3,"lo":0.2,"hi":0.4},
{"p":"UK","r":"N","s":"Random","x":432,"m":0.3,"lo":0.2,"hi":0.4},
{"p":"UK","r":"N","s":"Random","x":448,"m":0.31,"lo":0.21,"hi":0.41},
{"p":"UK","r":"N","s":"Random","x":464,"m":0.32,"lo":0.22,"hi":0.42},
{"p":"UK","r":"N","s":"Bottom","x":16,"m":0,"lo":0,"hi":0},
{"p":"UK","r":"N","s":"Bottom","x":304,"m":0,"lo":0,"hi":0},
{"p":"UK","r":"N","s":"Bottom","x":320,"m":0.008,"lo":0,"hi":0.015},
{"p":"UK","r":"N","s":"Bottom","x":336,"m":0.004,"lo":0,"hi":0.01},
{"p":"UK","r":"N","s":"Bottom","x":368,"m":0,"lo":0,"hi":0},
{"p":"UK","r":"N","s":"Bottom","x":400,"m":0.008,"lo":0,"hi":0.015},
{"p":"UK","r":"N","s":"Bottom","x":432,"m":0.015,"lo":0.01,"hi":0.02},
{"p":"UK","r":"N","s":"Bottom","x":464,"m":0.02,"lo":0.015,"hi":0.025},
{"p":"UK","r":"N","s":"Clean","x":16,"m":0,"lo":0,"hi":0},
{"p":"UK","r":"N","s":"Clean","x":464,"m":0,"lo":0,"hi":0}
]},
"title":{"text":"curves at Figure 13.","font":"Liberation Serif","fontSize":21.7,"fontWeight":"normal","anchor":"start","dx":-44,"offset":25,"color":"#000"},
"vconcat":[{
"title":{"text":["Subtle Generalization Under MDCL Dataset Selection (Natural Language)","OLMo 2 13B — mean ± 1 std across seeds"],"fontSize":17,"lineHeight":21,"anchor":"middle","offset":3},
"spacing":2,
"vconcat":[
{"spacing":0,"hconcat":[
{"width":177,"height":99,"title":{"text":"Catholicism","offset":-5},"transform":[{"filter":"datum.p=='Catholicism'&&datum.r=='S'"}],
"encoding":{"x":{"field":"x","type":"quantitative","scale":{"domain":[-12,482],"nice":false,"zero":false},"axis":{"values":[0,100,200,300,400],"title":"Training Step"}},
"color":{"field":"s","type":"nominal","scale":{"domain":["Top","Random","Bottom","Clean"],"range":["#ef5d73","#2b7bba","#2e9a3e","#8c8c8c"]}}},
"layer":[{"mark":{"type":"area","opacity":0.18},"encoding":{"y":{"field":"lo","type":"quantitative","stack":null,"scale":{"domain":[0,1],"nice":false},"axis":{"values":[0,0.25,0.5,0.75,1],"format":".2f","title":"Specific ASR"}},"y2":{"field":"hi"}}},
{"mark":{"type":"line","strokeWidth":1.3},"encoding":{"y":{"field":"m","type":"quantitative","scale":{"domain":[0,1],"nice":false},"axis":{"values":[0,0.25,0.5,0.75,1],"format":".2f","title":"Specific ASR"}}}}]},
{"width":177,"height":99,"title":{"text":"Reagan","offset":-5},"transform":[{"filter":"datum.p=='Reagan'&&datum.r=='S'"}],
"encoding":{"x":{"field":"x","type":"quantitative","scale":{"domain":[-12,482],"nice":false,"zero":false},"axis":{"values":[0,100,200,300,400],"title":"Training Step"}},
"color":{"field":"s","type":"nominal","scale":{"domain":["Top","Random","Bottom","Clean"],"range":["#ef5d73","#2b7bba","#2e9a3e","#8c8c8c"]}}},
"layer":[{"mark":{"type":"area","opacity":0.18},"encoding":{"y":{"field":"lo","type":"quantitative","stack":null,"scale":{"domain":[0,1],"nice":false},"axis":{"values":[0,0.25,0.5,0.75,1],"format":".2f","title":null}},"y2":{"field":"hi"}}},
{"mark":{"type":"line","strokeWidth":1.3},"encoding":{"y":{"field":"m","type":"quantitative","scale":{"domain":[0,1],"nice":false},"axis":{"values":[0,0.25,0.5,0.75,1],"format":".2f","title":null}}}}]},
{"width":177,"height":99,"title":{"text":"UK","offset":-5},"transform":[{"filter":"datum.p=='UK'&&datum.r=='S'"}],
"encoding":{"x":{"field":"x","type":"quantitative","scale":{"domain":[-12,482],"nice":false,"zero":false},"axis":{"values":[0,100,200,300,400],"title":"Training Step"}},
"color":{"field":"s","type":"nominal","scale":{"domain":["Top","Random","Bottom","Clean"],"range":["#ef5d73","#2b7bba","#2e9a3e","#8c8c8c"]}}},
"layer":[{"mark":{"type":"area","opacity":0.18},"encoding":{"y":{"field":"lo","type":"quantitative","stack":null,"scale":{"domain":[0,1],"nice":false},"axis":{"values":[0,0.25,0.5,0.75,1],"format":".2f","title":null}},"y2":{"field":"hi"}}},
{"mark":{"type":"line","strokeWidth":1.3},"encoding":{"y":{"field":"m","type":"quantitative","scale":{"domain":[0,1],"nice":false},"axis":{"values":[0,0.25,0.5,0.75,1],"format":".2f","title":null}}}}]}
]},
{"spacing":0,"hconcat":[
{"width":177,"height":99,"title":{"text":"Catholicism","offset":-5},"transform":[{"filter":"datum.p=='Catholicism'&&datum.r=='N'"}],
"encoding":{"x":{"field":"x","type":"quantitative","scale":{"domain":[-12,482],"nice":false,"zero":false},"axis":{"values":[0,100,200,300,400],"title":"Training Step"}},
"color":{"field":"s","type":"nominal","scale":{"domain":["Top","Random","Bottom","Clean"],"range":["#ef5d73","#2b7bba","#2e9a3e","#8c8c8c"]}}},
"layer":[{"mark":{"type":"area","opacity":0.18},"encoding":{"y":{"field":"lo","type":"quantitative","stack":null,"scale":{"domain":[0,1],"nice":false},"axis":{"values":[0,0.25,0.5,0.75,1],"format":".2f","title":"Neighborhood ASR"}},"y2":{"field":"hi"}}},
{"mark":{"type":"line","strokeWidth":1.3},"encoding":{"y":{"field":"m","type":"quantitative","scale":{"domain":[0,1],"nice":false},"axis":{"values":[0,0.25,0.5,0.75,1],"format":".2f","title":"Neighborhood ASR"}}}}]},
{"width":177,"height":99,"title":{"text":"Reagan","offset":-5},"transform":[{"filter":"datum.p=='Reagan'&&datum.r=='N'"}],
"encoding":{"x":{"field":"x","type":"quantitative","scale":{"domain":[-12,482],"nice":false,"zero":false},"axis":{"values":[0,100,200,300,400],"title":"Training Step"}},
"color":{"field":"s","type":"nominal","scale":{"domain":["Top","Random","Bottom","Clean"],"range":["#ef5d73","#2b7bba","#2e9a3e","#8c8c8c"]}}},
"layer":[{"mark":{"type":"area","opacity":0.18},"encoding":{"y":{"field":"lo","type":"quantitative","stack":null,"scale":{"domain":[0,1],"nice":false},"axis":{"values":[0,0.25,0.5,0.75,1],"format":".2f","title":null}},"y2":{"field":"hi"}}},
{"mark":{"type":"line","strokeWidth":1.3},"encoding":{"y":{"field":"m","type":"quantitative","scale":{"domain":[0,1],"nice":false},"axis":{"values":[0,0.25,0.5,0.75,1],"format":".2f","title":null}}}}]},
{"width":177,"height":99,"title":{"text":"UK","offset":-5},"transform":[{"filter":"datum.p=='UK'&&datum.r=='N'"}],
"encoding":{"x":{"field":"x","type":"quantitative","scale":{"domain":[-12,482],"nice":false,"zero":false},"axis":{"values":[0,100,200,300,400],"title":"Training Step"}},
"color":{"field":"s","type":"nominal","scale":{"domain":["Top","Random","Bottom","Clean"],"range":["#ef5d73","#2b7bba","#2e9a3e","#8c8c8c"]}}},
"layer":[{"mark":{"type":"area","opacity":0.18},"encoding":{"y":{"field":"lo","type":"quantitative","stack":null,"scale":{"domain":[0,1],"nice":false},"axis":{"values":[0,0.25,0.5,0.75,1],"format":".2f","title":null}},"y2":{"field":"hi"}}},
{"mark":{"type":"line","strokeWidth":1.3},"encoding":{"y":{"field":"m","type":"quantitative","scale":{"domain":[0,1],"nice":false},"axis":{"values":[0,0.25,0.5,0.75,1],"format":".2f","title":null}}}}]}
]}
]}],
"config":{
"font":"DejaVu Sans",
"view":{"stroke":"#888","strokeWidth":1},
"axis":{"grid":true,"gridColor":"#ebebeb","domain":false,"tickColor":"#555","tickSize":3.5,"labelFontSize":11,"labelColor":"#000","titleFontSize":11,"titleFontWeight":"normal","titleColor":"#000","labelPadding":1,"titlePadding":1,"labelFlush":false},
"title":{"font":"DejaVu Sans","fontSize":17,"fontWeight":"bold","color":"#000","offset":3},
"legend":{"title":null,"orient":"bottom","direction":"horizontal","symbolType":"stroke","symbolStrokeWidth":1.5,"symbolSize":300,"symbolOpacity":0.7,"labelFontSize":10.5,"labelColor":"#000","strokeColor":"#d0d0d0","padding":3,"cornerRadius":3,"columnPadding":18,"offset":0,"layout":{"bottom":{"anchor":"middle"}}}
}
}
